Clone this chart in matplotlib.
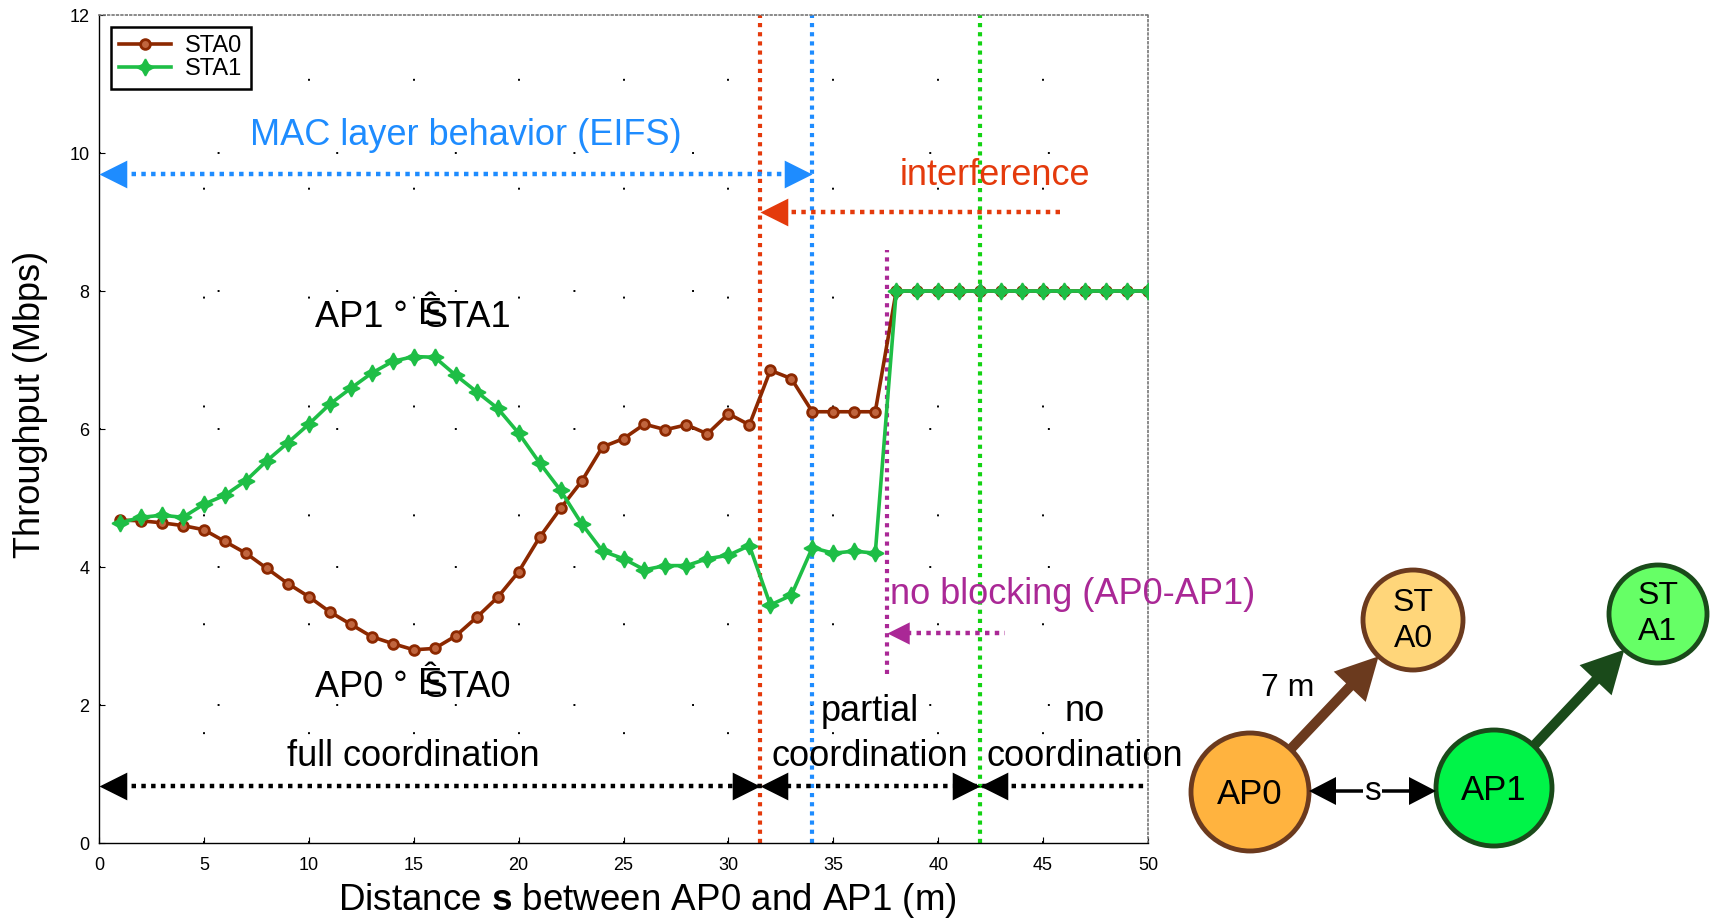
import matplotlib
matplotlib.use('Agg')
import matplotlib.pyplot as plt
import numpy as np
from matplotlib.path import Path
from matplotlib.patches import Circle, Polygon

plt.rcParams['font.family'] = ['Liberation Sans', 'DejaVu Sans']
plt.rcParams['mathtext.fontset'] = 'custom'
plt.rcParams['mathtext.rm'] = 'Liberation Sans'
plt.rcParams['mathtext.bf'] = 'Liberation Sans:bold'

# ---------------- data ----------------
distance = list(range(1, 51))
sta0 = [4.68, 4.67, 4.64, 4.60, 4.54, 4.37, 4.20, 3.98, 3.76, 3.57,
        3.35, 3.17, 2.99, 2.89, 2.80, 2.82, 3.00, 3.27, 3.56, 3.93,
        4.43, 4.85, 5.24, 5.74, 5.86, 6.07, 5.99, 6.06, 5.93, 6.22,
        6.06, 6.85, 6.73, 6.25, 6.25, 6.25, 6.25, 8.0, 8.0, 8.0,
        8.0, 8.0, 8.0, 8.0, 8.0, 8.0, 8.0, 8.0, 8.0, 8.0]
sta1 = [4.64, 4.72, 4.75, 4.72, 4.91, 5.04, 5.25, 5.54, 5.80, 6.07,
        6.36, 6.59, 6.81, 6.98, 7.05, 7.04, 6.78, 6.54, 6.30, 5.94,
        5.51, 5.11, 4.63, 4.23, 4.12, 3.96, 4.02, 4.02, 4.12, 4.17,
        4.31, 3.45, 3.59, 4.28, 4.20, 4.23, 4.20, 8.0, 8.0, 8.0,
        8.0, 8.0, 8.0, 8.0, 8.0, 8.0, 8.0, 8.0, 8.0, 8.0]
series_labels = ['STA0', 'STA1']
x_ticks = list(range(0, 51, 5))
y_ticks = list(range(0, 13, 2))

# region boundaries (m)
interference_x = 31.5
eifs_x = 34.0
no_coord_x = 42.0
no_block_x = 37.55

# ---------------- colours ----------------
C_BROWN = '#8C2800'
C_GREEN = '#1EBE46'
C_RED = '#E43A0C'
C_BLUE = '#1E8CFF'
C_VGREEN = '#14D214'
C_MAG = '#AA2896'

fig = plt.figure(figsize=(17.18, 9.21), dpi=100)
ax = fig.add_axes([99 / 1718, 78 / 921, 1049 / 1718, 828 / 921])

DOT = (0, (1, 1.2))

# sparse dotted grid
for xv in x_ticks[1:-1]:
    ax.plot([xv, xv], [0, 12], color='k', lw=1.4, ls=(0, (1, 55)), zorder=0)
for yv in y_ticks[1:-1]:
    ax.plot([0, 50], [yv, yv], color='k', lw=1.4, ls=(0, (1, 60)), zorder=0)

# vertical boundary lines
ax.plot([interference_x] * 2, [0, 12], color=C_RED, lw=3, ls=DOT, zorder=2)
ax.plot([eifs_x] * 2, [0, 12], color=C_BLUE, lw=3, ls=DOT, zorder=2)
ax.plot([no_coord_x] * 2, [0, 12], color=C_VGREEN, lw=3, ls=DOT, zorder=2)
ax.plot([no_block_x] * 2, [2.45, 8.6], color=C_MAG, lw=3, ls=DOT, zorder=2)

# data
ax.plot(distance, sta0, color=C_BROWN, lw=2.6, marker='o', ms=7,
        mfc='#C0653E', mec=C_BROWN, mew=2.0, label=series_labels[0], zorder=5)
ax.plot(distance, sta1, color=C_GREEN, lw=2.6, marker=(4, 1, 0), ms=12,
        mfc=C_GREEN, mec=C_GREEN, mew=1.2, label=series_labels[1], zorder=6)

# arrow head markers (tip at the data point)
RIGHT = Path([(0, 0), (-1, 0.5), (-1, -0.5), (0, 0)],
             [Path.MOVETO, Path.LINETO, Path.LINETO, Path.CLOSEPOLY])
LEFT = Path([(0, 0), (1, 0.5), (1, -0.5), (0, 0)],
            [Path.MOVETO, Path.LINETO, Path.LINETO, Path.CLOSEPOLY])


def hline(x0, x1, y, color):
    ax.plot([x0, x1], [y, y], color=color, lw=3.2, ls=DOT, zorder=7)


def head(x, y, path, color, ms=40):
    ax.plot([x], [y], marker=path, ms=ms, color=color, mec=color, mew=0,
            ls='none', zorder=8, clip_on=False)


# MAC layer (EIFS) arrow
y_eifs = 9.69
hline(0.6, eifs_x - 0.6, y_eifs, C_BLUE)
head(0, y_eifs, LEFT, C_BLUE)
head(eifs_x, y_eifs, RIGHT, C_BLUE)
ax.text(17.5, 10.25, 'MAC layer behavior (EIFS)', color=C_BLUE, fontsize=26,
        ha='center', va='center')

# interference arrow
y_int = 9.15
hline(interference_x + 0.6, 46.05, y_int, C_RED)
head(interference_x, y_int, LEFT, C_RED)
ax.text(42.7, 9.68, 'interference', color=C_RED, fontsize=26,
        ha='center', va='center')

# no blocking arrow
y_nb = 3.05
hline(no_block_x + 0.5, 43.2, y_nb, C_MAG)
head(no_block_x, y_nb, LEFT, C_MAG, ms=32)
ax.text(46.4, 3.6, 'no blocking (AP0-AP1)', color=C_MAG, fontsize=26,
        ha='center', va='center')

# coordination arrows
y_c = 0.83
hline(0.6, 49.8, y_c, 'k')
head(0, y_c, LEFT, 'k')
head(interference_x, y_c, RIGHT, 'k')
head(interference_x, y_c, LEFT, 'k')
head(no_coord_x, y_c, RIGHT, 'k')
head(no_coord_x, y_c, LEFT, 'k')
ax.text(15.0, 1.26, 'full coordination', fontsize=26, ha='center', va='center')
ax.text(36.75, 1.9, 'partial', fontsize=26, ha='center', va='center')
ax.text(36.75, 1.26, 'coordination', fontsize=26, ha='center', va='center')
ax.text(47.0, 1.9, 'no', fontsize=26, ha='center', va='center')
ax.text(47.0, 1.26, 'coordination', fontsize=26, ha='center', va='center')

# link labels (garbled arrow glyph kept as in the source)
for yv, ap, st in [(7.61, 'AP1 °', 'STA1'), (2.25, 'AP0 °', 'STA0')]:
    ax.text(10.3, yv, ap, fontsize=26, ha='left', va='center')
    ax.text(15.45, yv, st, fontsize=26, ha='left', va='center')
    ax.text(15.2, yv + 0.05, 'Ê', fontsize=26, ha='left', va='center')

# axes cosmetics
ax.set_xlim(0, 50)
ax.set_ylim(0, 12)
ax.set_xticks(x_ticks)
ax.set_yticks(y_ticks)
ax.tick_params(direction='in', length=4, labelsize=13, width=0.8)
ax.tick_params(axis='x', pad=10)
ax.tick_params(axis='y', pad=7)
ax.set_xlabel('Distance $\\mathbf{s}$ between AP0 and AP1 (m)', fontsize=26.5,
              va='center', ha='center')
ax.set_ylabel('Throughput (Mbps)', fontsize=26, va='center', ha='center')
ax.xaxis.set_label_coords(0.523, -0.069)
ax.yaxis.set_label_coords(-0.065, 0.53)
for side in ['top', 'right']:
    ax.spines[side].set_linestyle(':')
    ax.spines[side].set_color('#777777')
    ax.spines[side].set_linewidth(1.2)
for side in ['left', 'bottom']:
    ax.spines[side].set_linewidth(1.0)

leg = ax.legend(loc='upper left', bbox_to_anchor=(0.0114, 0.9855),
                borderaxespad=0, fontsize=17, fancybox=False, edgecolor='k',
                framealpha=1, handlelength=2.2, numpoints=1,
                labelspacing=0.05, borderpad=0.35, handletextpad=0.6)
leg.get_frame().set_linewidth(1.8)

# ---------------- topology diagram (figure pixel space) ----------------
ax2 = fig.add_axes([0, 0, 1, 1])
ax2.set_xlim(0, 1718)
ax2.set_ylim(921, 0)
ax2.axis('off')

nodes = {
    'AP0': ((1250, 792), 59, '#FFB33F', '#6B3A1E'),
    'STA0': ((1413, 620), 50, '#FFD67A', '#6B3A1E'),
    'AP1': ((1494, 788), 58, '#00F448', '#1A4A1A'),
    'STA1': ((1658, 614), 49, '#66FF66', '#1A4A1A'),
}


def arrow_poly(p0, p1, sw, hl, hw, color, z=3):
    p0 = np.array(p0, float)
    p1 = np.array(p1, float)
    u = (p1 - p0) / np.linalg.norm(p1 - p0)
    n = np.array([-u[1], u[0]])
    b = p1 - u * hl
    pts = [p0 + n * sw / 2, b + n * sw / 2, b + n * hw / 2, p1,
           b - n * hw / 2, b - n * sw / 2, p0 - n * sw / 2]
    ax2.add_patch(Polygon(pts, closed=True, fc=color, ec='none', zorder=z))


def edge_pts(a, b):
    (ca, ra, _, _), (cb, rb, _, _) = nodes[a], nodes[b]
    ca, cb = np.array(ca, float), np.array(cb, float)
    u = (cb - ca) / np.linalg.norm(cb - ca)
    return ca + u * ra, cb - u * rb


for name, (c, r, fc, ec) in nodes.items():
    ax2.add_patch(Circle(c, r, fc=fc, ec=ec, lw=3.5, zorder=2))

s0, t0 = edge_pts('AP0', 'STA0')
arrow_poly(s0, t0, 10, 42, 44, '#6B3A1E')
s1, t1 = edge_pts('AP1', 'STA1')
arrow_poly(s1, t1, 10, 42, 44, '#1A4A1A')

# s double arrow
yA = 791
xa = nodes['AP0'][0][0] + nodes['AP0'][1]
xb = nodes['AP1'][0][0] - nodes['AP1'][1]
xm = (xa + xb) / 2
arrow_poly((xm, yA), (xa, yA), 3.5, 27, 28, 'k')
arrow_poly((xm, yA), (xb, yA), 3.5, 27, 28, 'k')
ax2.text(xm, yA, 's', fontsize=24, ha='center', va='center', zorder=5,
         bbox=dict(fc='white', ec='none', pad=0.5))

ax2.text(1250, 794, 'AP0', fontsize=25, ha='center', va='center', zorder=5)
ax2.text(1494, 790, 'AP1', fontsize=25, ha='center', va='center', zorder=5)
ax2.text(1413, 621, 'ST\nA0', fontsize=23, ha='center', va='center',
         linespacing=1.3, zorder=5)
ax2.text(1658, 614, 'ST\nA1', fontsize=23, ha='center', va='center',
         linespacing=1.3, zorder=5)
ax2.text(1288, 688, '7 m', fontsize=23, ha='center', va='center', zorder=5)

fig.savefig('out.png', dpi=100)
